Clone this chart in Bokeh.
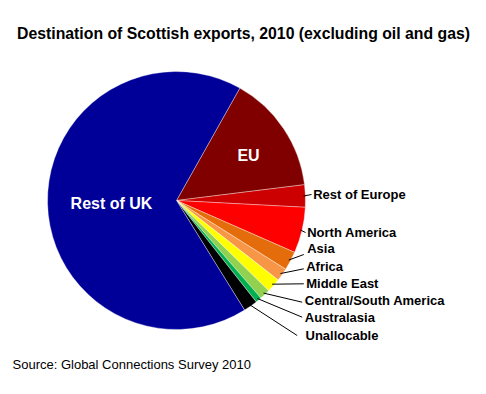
import numpy as np
from bokeh.plotting import figure
from bokeh.models import Range1d, ColumnDataSource
from bokeh.core.properties import value
from bokeh.embed import file_html
from bokeh.resources import INLINE

# ---- data (values in GBP bn) ----
categories = ["EU", "Rest of Europe", "North America", "Asia", "Africa",
              "Middle East", "Central/South America", "Australasia",
              "Unallocable", "Rest of UK"]
values = [10.1, 1.9, 3.9, 1.6, 1.1, 1.2, 0.9, 0.5, 1.2, 45.5]
colors = ["#800000", "#CC0000", "#FF0000", "#E46C0A", "#F79646",
          "#FFFF00", "#92D050", "#00B050", "#000000", "#000099"]
title_text = "Destination of Scottish exports, 2010 (excluding oil and gas)"
source_text = "Source: Global Connections Survey 2010"

# ---- layout ----
W, H = 470, 378
OX, OY = 8, -8
cx, cy, R = 168 + OX, 186 + OY, 129
first_angle = 29.4  # degrees clockwise from 12 o'clock

# outside labels: (left x, centre y) and leader end point
out_labels = categories[1:9]
out_pos = [(304.7, 191.7), (298.7, 153.7), (298.7, 137.7), (297.7, 120.3),
           (297.7, 102.7), (296.3, 86.0), (296.3, 69.3), (297.0, 51.0)]
lead_end = [(303.0, 192.0), (297.0, 154.0), (295.3, 132.0), (295.3, 117.7),
            (295.3, 102.7), (293.7, 84.3), (293.7, 69.3), (288.7, 51.0)]
out_pos = [(a + OX, b + OY) for a, b in out_pos]
lead_end = [(a + OX, b + OY) for a, b in lead_end]

FONT = "Liberation Sans"

vals = np.array(values, dtype=float)
frac = vals / vals.sum()
cum = np.concatenate([[0.0], np.cumsum(frac)]) * 360.0 + first_angle
start_deg = cum[:-1]
end_deg = cum[1:]
mid_deg = (start_deg + end_deg) / 2.0

src = ColumnDataSource(dict(
    cat=categories,
    start=np.radians(90.0 - start_deg),
    end=np.radians(90.0 - end_deg),
    color=colors,
))

p = figure(width=W, height=H, x_range=Range1d(0, W), y_range=Range1d(0, H),
           output_backend="svg", toolbar_location=None, min_border=0)
p.axis.visible = False
p.grid.visible = False
p.outline_line_color = None
p.background_fill_color = "white"
p.border_fill_color = "white"

p.wedge(x=cx, y=cy, radius=R, start_angle="start", end_angle="end",
        direction="clock", fill_color="color", line_color="white",
        line_width=0.6, line_alpha=0.6, source=src)

# leader lines
xs, ys = [], []
for i, lab in enumerate(out_labels):
    k = categories.index(lab)
    a = np.radians(mid_deg[k])
    r0 = R * 0.985
    sx = cx + r0 * np.sin(a)
    sy = cy + r0 * np.cos(a)
    xs.append([sx, lead_end[i][0]])
    ys.append([sy, lead_end[i][1]])
p.multi_line(xs=xs, ys=ys, line_color="black", line_width=1)

# outside labels
p.text(x=[q[0] for q in out_pos], y=[q[1] for q in out_pos], text=out_labels,
       text_font=value(FONT), text_font_style="bold", text_font_size="13px",
       text_align="left", text_baseline="middle", text_color="black")

# inside labels
p.text(x=[103 + OX, 240 + OX], y=[183 + OY, 231 + OY], text=["Rest of UK", "EU"],
       text_font=value(FONT), text_font_style="bold", text_font_size="16px",
       text_align="center", text_baseline="middle", text_color="white")

# title and source
p.text(x=[235 + OX], y=[353.5 + OY], text=[title_text], text_font=value(FONT),
       text_font_style="bold", text_font_size="15.8px", text_align="center",
       text_baseline="middle", text_color="black")
p.text(x=[4 + OX], y=[22 + OY], text=[source_text], text_font=value(FONT),
       text_font_size="13px", text_align="left", text_baseline="middle",
       text_color="black")

open("out.html", "w").write(file_html(p, INLINE))
